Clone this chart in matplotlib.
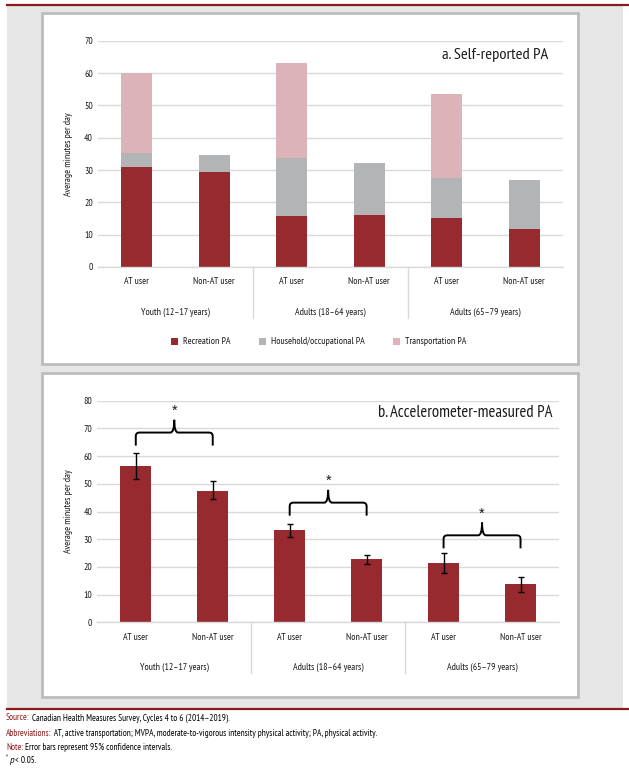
import numpy as np
import matplotlib
matplotlib.use('Agg')
import matplotlib.pyplot as plt
from matplotlib.patches import Rectangle, PathPatch
from matplotlib.path import Path
from matplotlib.lines import Line2D
from matplotlib.text import Annotation
from matplotlib.transforms import blended_transform_factory

plt.rcParams['font.family'] = ['PT Sans Narrow', 'DejaVu Sans']

# data
groups = ['Youth (12\u201317 years)', 'Adults (18\u201364 years)', 'Adults (65\u201379 years)']
users = ['AT user', 'Non-AT user'] * 3

# a. self-reported PA (minutes per day)
recreation = np.array([31.0, 29.5, 15.7, 16.1, 15.1, 11.8])
household = np.array([4.3, 5.2, 18.1, 16.2, 12.5, 15.2])
transport = np.array([24.7, 0.0, 29.2, 0.0, 25.8, 0.0])

# b. accelerometer-measured MVPA with 95% CI
acc_mean = np.array([56.4, 47.5, 33.2, 22.7, 21.4, 13.7])
acc_low = np.array([51.7, 44.4, 30.9, 20.9, 17.8, 10.8])
acc_high = np.array([61.2, 51.1, 35.6, 24.2, 25.0, 16.2])

# significant pairs (bar index) and level of the brace ends
sig_pairs = [(0, 1), (2, 3), (4, 5)]
brace_y = [63.8, 38.5, 26.7]

RED = '#962a2e'
GRAY = '#b3b4b5'
PINK = '#dcb3b9'
DARKRED = '#8b1a1a'
GRID = '#d9d9d9'
TXT = '#1a1a1a'
FS = 7

W, H = 629, 772
fig = plt.figure(figsize=(W / 100, H / 100), dpi=100)


def fx(x):
    return x / W


def fy(y):
    return 1 - y / H


def rect(x0, y0, x1, y1, **kw):
    r = Rectangle((fx(x0), fy(y1)), (x1 - x0) / W, (y1 - y0) / H,
                  transform=fig.transFigure, **kw)
    fig.patches.append(r)


# page background, panels and red rules
rect(7, 5, 623, 708, facecolor='#e6e6e6', edgecolor='none', zorder=0)
rect(42, 13, 578, 364, facecolor='white', edgecolor='#bcbcbc', lw=2, zorder=1)
rect(42, 373, 578, 697, facecolor='white', edgecolor='#bcbcbc', lw=2, zorder=1)
for yy in (4.5, 708.5):
    fig.add_artist(Line2D([fx(7), 1.0], [fy(yy), fy(yy)], transform=fig.transFigure,
                          color=DARKRED, lw=1.6))


def make_axes(x0, x1, ytop, ybot, ymax):
    ax = fig.add_axes([fx(x0), fy(ybot), (x1 - x0) / W, (ybot - ytop) / H])
    ax.set_facecolor('none')
    ax.set_zorder(2)
    ax.set_xlim(-0.5, 5.5)
    ax.set_ylim(0, ymax)
    ax.set_yticks(np.arange(0, ymax + 1, 10))
    ax.yaxis.grid(True, color=GRID, lw=1)
    ax.set_axisbelow(True)
    for s in ['top', 'right', 'left']:
        ax.spines[s].set_visible(False)
    ax.spines['bottom'].set_color(GRID)
    ax.spines['bottom'].set_linewidth(1)
    ax.tick_params(axis='both', length=0, labelsize=FS, labelcolor=TXT)
    ax.tick_params(axis='y', pad=3.6)
    ax.tick_params(axis='x', pad=7.5)
    x = np.arange(6)
    ax.set_xticks(x, users)
    ax.set_ylabel('Average minutes per day', fontsize=FS, color=TXT)
    ax.yaxis.set_label_coords((73 - x0) / (x1 - x0), 0.5)
    # group labels and separators
    hpx = ybot - ytop
    tr = blended_transform_factory(ax.transData, ax.transAxes)
    for i, g in enumerate(groups):
        ax.annotate(g, xy=(2 * i + 0.5, 0), xycoords=('data', 'axes fraction'),
                    xytext=(0, -45), textcoords='offset pixels',
                    ha='center', va='center', fontsize=FS, color=TXT)
    for xs in (1.5, 3.5):
        ax.plot([xs, xs], [0, -51 / hpx], transform=tr, color=GRID, lw=1, clip_on=False)
    return ax, x


# panel a
ax1, x = make_axes(98, 563, 40.7, 267, 70)
b1 = ax1.bar(x, recreation, 0.4, color=RED, label='Recreation PA')
b2 = ax1.bar(x, household, 0.4, bottom=recreation, color=GRAY, label='Household/occupational PA')
b3 = ax1.bar(x, transport, 0.4, bottom=recreation + household, color=PINK, label='Transportation PA')
ax1.text((548 - 98) / 465, (267 - 55) / 226.3, 'a. Self-reported PA', transform=ax1.transAxes,
         ha='right', va='center', fontsize=11.8, color=TXT)
ax1.legend(handles=[b1, b2, b3], loc='center', bbox_to_anchor=(0.475, -75 / 226.3), ncol=3,
           frameon=False, fontsize=FS, handlelength=0.7, handleheight=0.7,
           handletextpad=0.55, columnspacing=2.9, labelcolor=TXT)

# panel b
ax2, x = make_axes(97.3, 559, 400.7, 622.3, 80)
ax2.bar(x, acc_mean, 0.4, color=RED,
        yerr=[acc_mean - acc_low, acc_high - acc_mean], capsize=2.5,
        error_kw=dict(ecolor='black', elinewidth=1, capthick=1))
ax2.text((552 - 97.3) / 461.7, (622.3 - 412.7) / 221.6, 'b. Accelerometer-measured PA',
         transform=ax2.transAxes, ha='right', va='center', fontsize=12, color=TXT)


def brace(ax, xa, xb, y0):
    h1, h2 = 4.7, 4.6
    rx, ry = 0.05, 1.3
    xm = (xa + xb) / 2
    y1 = y0 + h1
    y2 = y1 + h2
    verts = [(xa, y0), (xa, y1 - ry), (xa, y1), (xa + rx, y1),
             (xm - rx, y1), (xm, y1), (xm, y2),
             (xm, y1), (xm + rx, y1),
             (xb - rx, y1), (xb, y1), (xb, y1 - ry), (xb, y0)]
    codes = [Path.MOVETO, Path.LINETO, Path.CURVE3, Path.CURVE3,
             Path.LINETO, Path.CURVE3, Path.CURVE3,
             Path.CURVE3, Path.CURVE3,
             Path.LINETO, Path.CURVE3, Path.CURVE3, Path.LINETO]
    ax.add_patch(PathPatch(Path(verts, codes), fill=False, lw=1.4, edgecolor='black',
                           clip_on=False))
    ax.text(xm, y2 + 3.2, '*', ha='center', va='center', fontsize=10.5, color=TXT,
            family=['Liberation Sans', 'DejaVu Sans'])


for (i, j), yb in zip(sig_pairs, brace_y):
    brace(ax2, x[i], x[j], yb)

# footnotes
NFS = 6.7
notes = [('Source:', ' Canadian Health Measures Survey, Cycles 4 to 6 (2014\u20132019).', 718),
         ('Abbreviations:', ' AT, active transportation; MVPA, moderate-to-vigorous intensity physical activity; PA, physical activity.', 733),
         ('Note:', ' Error bars represent 95% confidence intervals.', 747)]
for head, body, yy in notes:
    t = fig.text(fx(6), fy(yy), head, color=DARKRED, fontsize=NFS, va='center', ha='left')
    fig.add_artist(Annotation(body, xy=(1, 0.5), xycoords=t, va='center', ha='left',
                              fontsize=NFS, color='black'))

t = fig.text(fx(6), fy(758), '*', fontsize=5, va='center', ha='left')
t2 = fig.add_artist(Annotation('p', xy=(1.3, 0.15), xycoords=t, va='center', ha='left',
                               fontsize=NFS, style='italic', family=['PT Sans', 'DejaVu Sans']))
fig.add_artist(Annotation(' < 0.05.', xy=(1, 0.5), xycoords=t2, va='center', ha='left',
                          fontsize=NFS))

fig.savefig('out.png', dpi=100)
